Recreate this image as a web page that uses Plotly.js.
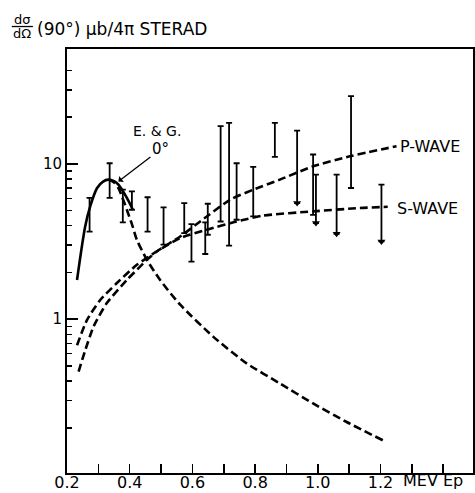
<!DOCTYPE html>
<html>
<head>
<meta charset="utf-8">
<script src="https://cdn.plot.ly/plotly-3.0.1.min.js"></script>
<style>html,body{margin:0;padding:0;background:#fff;}#chart{width:475px;height:493px;}</style>
</head>
<body>
<div id="chart"></div>
<script>
// E. & G. 0° curve (solid part) and its dashed continuation
const solidX = [0.232, 0.258, 0.274, 0.296, 0.315, 0.332, 0.350, 0.364, 0.391, 0.410];
const solidY = [1.79, 3.96, 5.33, 7.0, 7.7, 7.92, 7.75, 7.35, 6.04, 5.07];
const decayX = [0.332, 0.350, 0.364, 0.407, 0.423, 0.455, 0.497, 0.561, 0.667, 0.773, 0.879, 0.985, 1.092, 1.208];
const decayY = [7.92, 7.6, 7.0, 4.1, 3.24, 2.41, 1.79, 1.24, 0.77, 0.52, 0.386, 0.287, 0.218, 0.166];
// S-wave and P-wave curves
const sWaveX = [0.232, 0.264, 0.306, 0.359, 0.423, 0.486, 0.561, 0.646, 0.741, 0.826, 0.985, 1.134, 1.223];
const sWaveY = [0.68, 0.99, 1.33, 1.71, 2.24, 2.73, 3.33, 3.77, 4.26, 4.65, 4.95, 5.2, 5.3];
const pWaveX = [0.237, 0.258, 0.285, 0.327, 0.391, 0.455, 0.486, 0.561, 0.646, 0.720, 0.794, 0.879, 0.985, 1.102, 1.251];
const pWaveY = [0.46, 0.63, 0.90, 1.27, 1.79, 2.41, 2.73, 3.41, 4.59, 5.88, 6.83, 7.92, 9.65, 11.2, 13.0];
// measured points (error bars)
const barX  = [0.272, 0.336, 0.378, 0.407, 0.457, 0.508, 0.574, 0.597, 0.641, 0.649, 0.690, 0.717, 0.741, 0.794, 0.863, 0.985, 1.106];
const barLo = [3.67, 6.04, 4.2, 5.07, 3.67, 3.02, 3.59, 2.35, 2.63, 3.5, 4.26, 2.98, 4.37, 4.59, 11.1, 4.7, 7.0];
const barHi = [6.04, 10.1, 6.83, 6.66, 6.1, 5.25, 5.6, 4.1, 4.2, 5.54, 17.5, 18.4, 10.1, 9.57, 18.4, 11.5, 27.3];
// upper-limit bars (arrow at the bottom)
const limX  = [0.934, 0.994, 1.060, 1.203];
const limLo = [5.6, 4.16, 3.55, 3.17];
const limHi = [16.4, 8.53, 8.53, 7.36];
// axis ticks
const xTickVals = [0.2, 0.3, 0.4, 0.5, 0.6, 0.7, 0.8, 0.9, 1.0, 1.1, 1.2, 1.3, 1.4];
const xTickText = ['0.2', '', '0.4', '', '0.6', '', '0.8', '', '1.0', '', '1.2', '', ''];
const yTickVals = [1, 10];
const yTickText = ['1', '10'];
const yMinorVals = [0.2, 0.3, 0.4, 0.5, 0.6, 0.7, 0.8, 0.9, 2, 3, 4, 5, 6, 7, 8, 9, 20, 30, 40];

const FONT = 'DejaVu Sans, Arial, sans-serif';
const dashed = {color: '#000', width: 2.6, dash: '8px,4px', shape: 'spline', smoothing: 0.6};

const traces = [
  {x: solidX, y: solidY, mode: 'lines', line: {color: '#000', width: 2.6, shape: 'spline', smoothing: 0.8}, hoverinfo: 'skip'},
  {x: decayX, y: decayY, mode: 'lines', line: dashed, hoverinfo: 'skip'},
  {x: sWaveX, y: sWaveY, mode: 'lines', line: dashed, hoverinfo: 'skip'},
  {x: pWaveX, y: pWaveY, mode: 'lines', line: dashed, hoverinfo: 'skip'},
  {x: barX, y: barLo, mode: 'markers', marker: {size: 1, opacity: 0},
   error_y: {type: 'data', symmetric: false, array: barHi.map((h, i) => h - barLo[i]),
             arrayminus: barLo.map(() => 0), color: '#000', thickness: 1.8, width: 3}},
  {x: limX, y: limLo, mode: 'markers', marker: {symbol: 'triangle-down', size: 7, color: '#000'},
   error_y: {type: 'data', symmetric: false, array: limHi.map((h, i) => h - limLo[i]),
             arrayminus: limLo.map(() => 0), color: '#000', thickness: 1.8, width: 3}}
];

const layout = {
  width: 475, height: 493,
  margin: {l: 67, r: 2, t: 49, b: 20},
  paper_bgcolor: '#fff', plot_bgcolor: '#fff',
  showlegend: false,
  font: {family: FONT, color: '#000', size: 15},
  xaxis: {
    range: [0.2, 1.495], showgrid: false, zeroline: false,
    showline: true, mirror: true, linecolor: '#000', linewidth: 2,
    tickmode: 'array', tickvals: xTickVals, ticktext: xTickText,
    ticks: 'inside', ticklen: 9, tickwidth: 1.5, tickcolor: '#000',
    ticklabelstandoff: -6,
    tickfont: {family: FONT, size: 16, color: '#000'}
  },
  yaxis: {
    type: 'log', range: [-0.99, 1.74], showgrid: false, zeroline: false,
    showline: true, mirror: true, linecolor: '#000', linewidth: 2,
    tickmode: 'array', tickvals: yTickVals, ticktext: yTickText,
    ticks: 'inside', ticklen: 11, tickwidth: 1.5, tickcolor: '#000',
    tickfont: {family: FONT, size: 15, color: '#000'},
    minor: {tickmode: 'array', tickvals: yMinorVals, ticks: 'inside', ticklen: 5, tickwidth: 1.5, tickcolor: '#000', showgrid: false}
  },
  shapes: [
    {type: 'line', xref: 'paper', yref: 'paper', x0: -0.136, x1: -0.084, y0: 1.053, y1: 1.053, line: {color: '#000', width: 1.3}}
  ],
  annotations: [
    {xref: 'paper', yref: 'paper', x: -0.110, y: 1.069, text: 'dσ', showarrow: false, font: {size: 13}, xanchor: 'center', yanchor: 'middle'},
    {xref: 'paper', yref: 'paper', x: -0.110, y: 1.036, text: 'dΩ', showarrow: false, font: {size: 13}, xanchor: 'center', yanchor: 'middle'},
    {xref: 'paper', yref: 'paper', x: -0.080, y: 1.048, text: '(90°) μb/4π STERAD', showarrow: false, font: {size: 17}, xanchor: 'left', yanchor: 'middle'},
    {xref: 'paper', yref: 'paper', x: 0.816, y: 0.770, text: 'P-WAVE', showarrow: false, font: {size: 16}, xanchor: 'left', yanchor: 'middle'},
    {xref: 'paper', yref: 'paper', x: 0.808, y: 0.624, text: 'S-WAVE', showarrow: false, font: {size: 16}, xanchor: 'left', yanchor: 'middle'},
    {xref: 'paper', yref: 'paper', x: 0.222, y: 0.807, text: 'E. & G.', showarrow: false, font: {size: 14}, xanchor: 'center', yanchor: 'middle'},
    {xref: 'x', yref: 'y', x: 0.364, y: Math.log10(7.72), text: '0°', showarrow: true, arrowhead: 1, arrowsize: 1, arrowwidth: 1.3, arrowcolor: '#000',
     axref: 'pixel', ayref: 'pixel', ax: 42, ay: -32, font: {size: 15}},
    {xref: 'paper', yref: 'paper', x: 0.901, y: -0.017, text: 'MEV Ep', showarrow: false, font: {size: 16}, xanchor: 'center', yanchor: 'middle'}
  ]
};

Plotly.newPlot('chart', traces, layout, {staticPlot: true, displayModeBar: false});
</script>
</body>
</html>
